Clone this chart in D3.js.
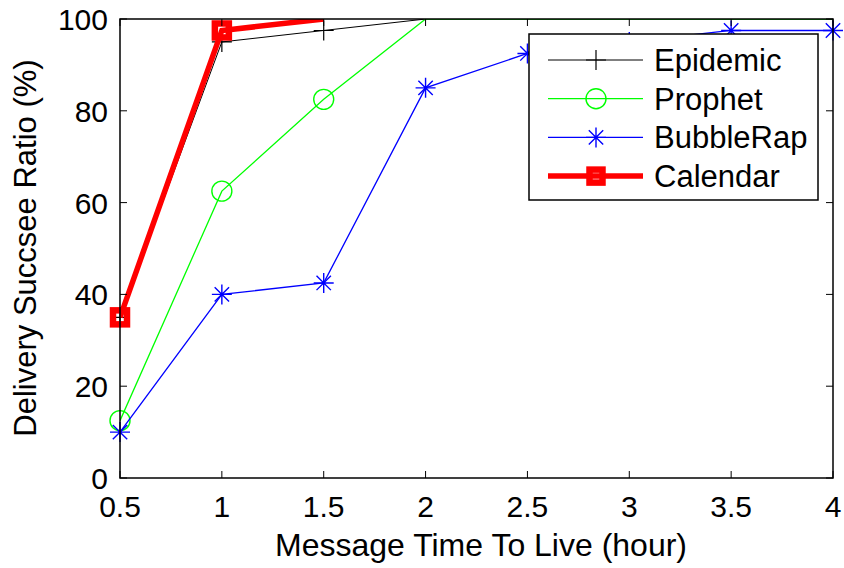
<!DOCTYPE html>
<html><head><meta charset="utf-8">
<script src="https://cdn.jsdelivr.net/npm/d3@7"></script>
<style>body{margin:0;background:#fff}svg{display:block}text{font-family:"Liberation Sans",Arial,sans-serif}</style>
</head><body>
<script>
const xValues = [0.5, 1, 1.5, 2, 2.5, 3, 3.5, 4];
const epidemic = [35, 95, 97.5, 100, 100, 100, 100, 100];
const prophet = [12.5, 62.5, 82.5, 100, 100, 100, 100, 100];
const bubbleRap = [10, 40, 42.5, 85, 92.5, 95, 97.5, 97.5];
const calendar = [35, 97.5, 100, null, null, null, null, null];
const xTicks = [0.5, 1, 1.5, 2, 2.5, 3, 3.5, 4];
const yTicks = [0, 20, 40, 60, 80, 100];
const seriesNames = ["Epidemic", "Prophet", "BubbleRap", "Calendar"];

const W = 844, H = 568;
const m = {l: 120, r: 844-833, t: 19, b: 568-478};
const svg = d3.select("body").append("svg").attr("width", W).attr("height", H);
const x = d3.scaleLinear().domain([0.5, 4]).range([m.l, W - m.r]);
const y = d3.scaleLinear().domain([0, 100]).range([H - m.b, m.t]);

const series = [
  {name: seriesNames[0], vals: epidemic, color: "#000", w: 1, marker: "plus"},
  {name: seriesNames[1], vals: prophet, color: "#00ff00", w: 1.3, marker: "circle"},
  {name: seriesNames[2], vals: bubbleRap, color: "#0000ff", w: 1.3, marker: "star"},
  {name: seriesNames[3], vals: calendar, color: "#ff0000", w: 5.5, marker: "square"}
];

function drawMarker(g, type, cx, cy, color, legend) {
  if (type === "plus") {
    g.append("path").attr("d", `M${cx-10},${cy}H${cx+10}M${cx},${cy-10}V${cy+10}`).attr("stroke", color).attr("stroke-width", 1.2).attr("fill", "none");
  } else if (type === "circle") {
    g.append("circle").attr("cx", cx).attr("cy", cy).attr("r", 10).attr("stroke", color).attr("stroke-width", 1.4).attr("fill", "none");
  } else if (type === "star") {
    const r = 10, d = r * 0.72;
    g.append("path").attr("d", `M${cx-r},${cy}H${cx+r}M${cx},${cy-r}V${cy+r}M${cx-d},${cy-d}L${cx+d},${cy+d}M${cx-d},${cy+d}L${cx+d},${cy-d}`).attr("stroke", color).attr("stroke-width", 1.4).attr("fill", "none");
  } else if (type === "square") {
    const s = legend ? 6.5 : 7;
    g.append("rect").attr("x", cx-s).attr("y", cy-s).attr("width", 2*s).attr("height", 2*s).attr("stroke", color).attr("stroke-width", legend ? 6.5 : 6.5).attr("fill", "none");
  }
}

svg.append("defs").append("clipPath").attr("id", "clip").append("rect")
  .attr("x", m.l).attr("y", m.t).attr("width", W - m.r - m.l).attr("height", H - m.b - m.t);

const plot = svg.append("g");
const line = d3.line().defined(d => d[1] != null).x(d => x(d[0])).y(d => y(d[1]));
series.forEach(s => {
  const pts = xValues.map((v, i) => [v, s.vals[i]]);
  plot.append("path").datum(pts).attr("d", line).attr("clip-path", "url(#clip)").attr("fill", "none").attr("stroke", s.color).attr("stroke-width", s.w).attr("stroke-linejoin", "miter");
  pts.filter(p => p[1] != null && p[1] < 100).forEach(p => drawMarker(plot, s.marker, x(p[0]), y(p[1]), s.color));
});

// axes box
const tl = 7;
const axG = svg.append("g");
axG.append("rect").attr("x", m.l).attr("y", m.t).attr("width", W - m.r - m.l).attr("height", H - m.b - m.t).attr("fill", "none").attr("stroke", "#000").attr("stroke-width", 1.5);
xTicks.forEach(t => {
  axG.append("line").attr("x1", x(t)).attr("x2", x(t)).attr("y1", y(0)).attr("y2", y(0) - tl).attr("stroke", "#000").attr("stroke-width", 1);
  axG.append("line").attr("x1", x(t)).attr("x2", x(t)).attr("y1", y(100)).attr("y2", y(100) + tl).attr("stroke", "#000").attr("stroke-width", 1);
  axG.append("text").attr("x", x(t)).attr("y", 517).attr("text-anchor", "middle").attr("font-size", 30).text(t);
});
yTicks.forEach(t => {
  axG.append("line").attr("x1", x(0.5)).attr("x2", x(0.5) + tl).attr("y1", y(t)).attr("y2", y(t)).attr("stroke", "#000").attr("stroke-width", 1);
  axG.append("line").attr("x1", x(4)).attr("x2", x(4) - tl).attr("y1", y(t)).attr("y2", y(t)).attr("stroke", "#000").attr("stroke-width", 1);
  axG.append("text").attr("x", 108).attr("y", y(t) + 11).attr("text-anchor", "end").attr("font-size", 30).text(t);
});
svg.append("text").attr("x", 481).attr("y", 556).attr("text-anchor", "middle").attr("font-size", 32).text("Message Time To Live (hour)");
svg.append("text").attr("transform", "translate(36,248) rotate(-90)").attr("text-anchor", "middle").attr("font-size", 31).text("Delivery Succsee Ratio (%)");

// legend
const lg = svg.append("g");
lg.append("rect").attr("x", 529).attr("y", 34).attr("width", 289).attr("height", 166).attr("fill", "#fff").attr("stroke", "#000").attr("stroke-width", 1.5);
series.forEach((s, i) => {
  const ly = 60 + i * 38.7;
  lg.append("line").attr("x1", 548).attr("x2", 643).attr("y1", ly).attr("y2", ly).attr("stroke", s.color).attr("stroke-width", s.w);
  drawMarker(lg, s.marker, 596, ly, s.color, true);
  lg.append("text").attr("x", 654).attr("y", ly + 11).attr("font-size", 31).text(s.name);
});
</script>
</body></html>
